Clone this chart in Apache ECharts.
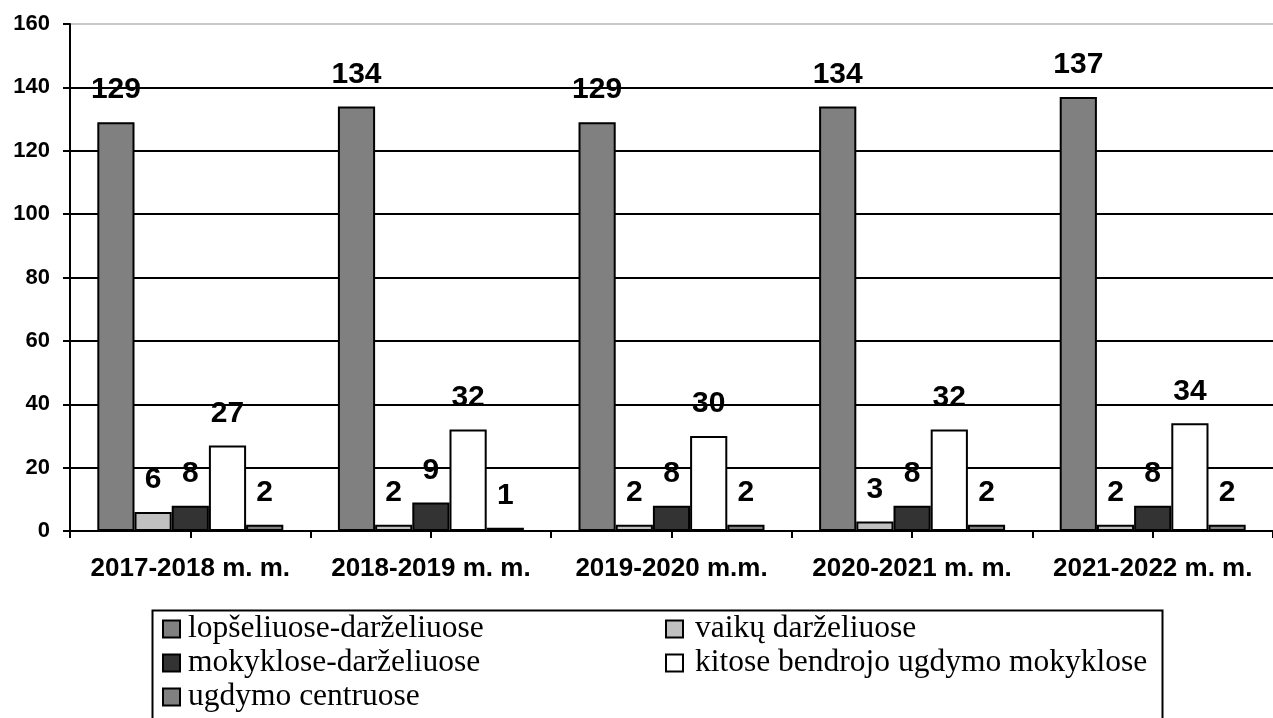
<!DOCTYPE html>
<html>
<head>
<meta charset="utf-8">
<script src="https://cdn.jsdelivr.net/npm/echarts@6/dist/echarts.min.js"></script>
<style>
html,body{margin:0;padding:0;background:#fff;}
#chart{width:1273px;height:718px;}
</style>
</head>
<body>
<div id="chart"></div>
<script>
const categories = ["2017-2018 m. m.", "2018-2019 m. m.", "2019-2020 m.m.", "2020-2021 m. m.", "2021-2022 m. m."];
const seriesNames = ["lopšeliuose-darželiuose", "vaikų darželiuose", "mokyklose-darželiuose", "kitose bendrojo ugdymo mokyklose", "ugdymo centruose"];
const lopselioDarzeliai = [129, 134, 129, 134, 137];
const vaikuDarzeliai = [6, 2, 2, 3, 2];
const mokyklosDarzeliai = [8, 9, 8, 8, 8];
const kitosMokyklos = [27, 32, 30, 32, 34];
const ugdymoCentrai = [2, 1, 2, 2, 2];
const seriesValues = [lopselioDarzeliai, vaikuDarzeliai, mokyklosDarzeliai, kitosMokyklos, ugdymoCentrai];
const seriesColors = ["#808080", "#c0c0c0", "#333333", "#ffffff", "#808080"];
const yTicks = [0, 20, 40, 60, 80, 100, 120, 140, 160];

const chart = echarts.init(document.getElementById('chart'));
const sans = "'Liberation Sans', Arial, sans-serif";
const serif = "'Liberation Serif', 'Times New Roman', serif";

const series = seriesNames.map((name, i) => ({
  name: name,
  type: 'bar',
  xAxisIndex: 0,
  yAxisIndex: 0,
  data: seriesValues[i],
  barGap: '0%',
  barCategoryGap: '22.7%',
  itemStyle: { color: seriesColors[i], borderColor: '#000', borderWidth: 2 },
  label: {
    show: true, position: 'top', distance: 17,
    color: '#000', fontFamily: sans, fontWeight: 'bold', fontSize: 30
  }
}));

const splitColors = yTicks.map((v, i) => i === yTicks.length - 1 ? '#c8c8c8' : '#000');

const legendCommon = {
  orient: 'vertical',
  top: 612,
  padding: 0,
  itemGap: 0,
  itemWidth: 17,
  itemHeight: 17,
  icon: 'rect',
  selectedMode: false,
  itemStyle: { borderColor: '#000', borderWidth: 2 }
};

chart.setOption({
  animation: false,
  backgroundColor: '#fff',
  grid: { left: 70, right: -9.5, top: 24, bottom: 187, containLabel: false },
  legend: [
    Object.assign({}, legendCommon, {
      left: 162, data: [seriesNames[0], seriesNames[2], seriesNames[4]],
      textStyle: { fontFamily: serif, fontSize: 31.5, color: '#000', lineHeight: 34, padding: [0, 0, 0, 3] }
    }),
    Object.assign({}, legendCommon, {
      left: 665, data: [seriesNames[1], seriesNames[3]],
      textStyle: { fontFamily: serif, fontSize: 31.5, color: '#000', lineHeight: 34, padding: [0, 0, 0, 7] }
    })
  ],
  graphic: [{
    type: 'rect', left: 150, top: 608, z: 100,
    shape: { width: 1010, height: 130 },
    style: { fill: 'none', stroke: '#000', lineWidth: 2 }
  }],
  xAxis: [{
    type: 'category',
    data: categories,
    axisLine: { show: true, lineStyle: { color: '#000', width: 2 } },
    axisTick: { show: false },
    axisLabel: { interval: 0, margin: 25, color: '#000', fontFamily: sans, fontWeight: 'bold', fontSize: 26 }
  }, {
    type: 'value',
    position: 'bottom',
    min: 0, max: categories.length * 2, interval: 1,
    axisLine: { show: false },
    axisTick: { show: true, length: 7, lineStyle: { color: '#000', width: 2 } },
    axisLabel: { show: false },
    splitLine: { show: false }
  }],
  yAxis: {
    type: 'value',
    min: 0, max: 160, interval: 20,
    axisLine: { show: true, lineStyle: { color: '#000', width: 2 } },
    axisTick: { show: true, length: 7, lineStyle: { color: '#000', width: 2 } },
    axisLabel: { margin: 20, color: '#000', fontFamily: sans, fontWeight: 'bold', fontSize: 22 },
    splitLine: { show: true, lineStyle: { color: splitColors, width: 2 } }
  },
  series: series
});
</script>
</body>
</html>
